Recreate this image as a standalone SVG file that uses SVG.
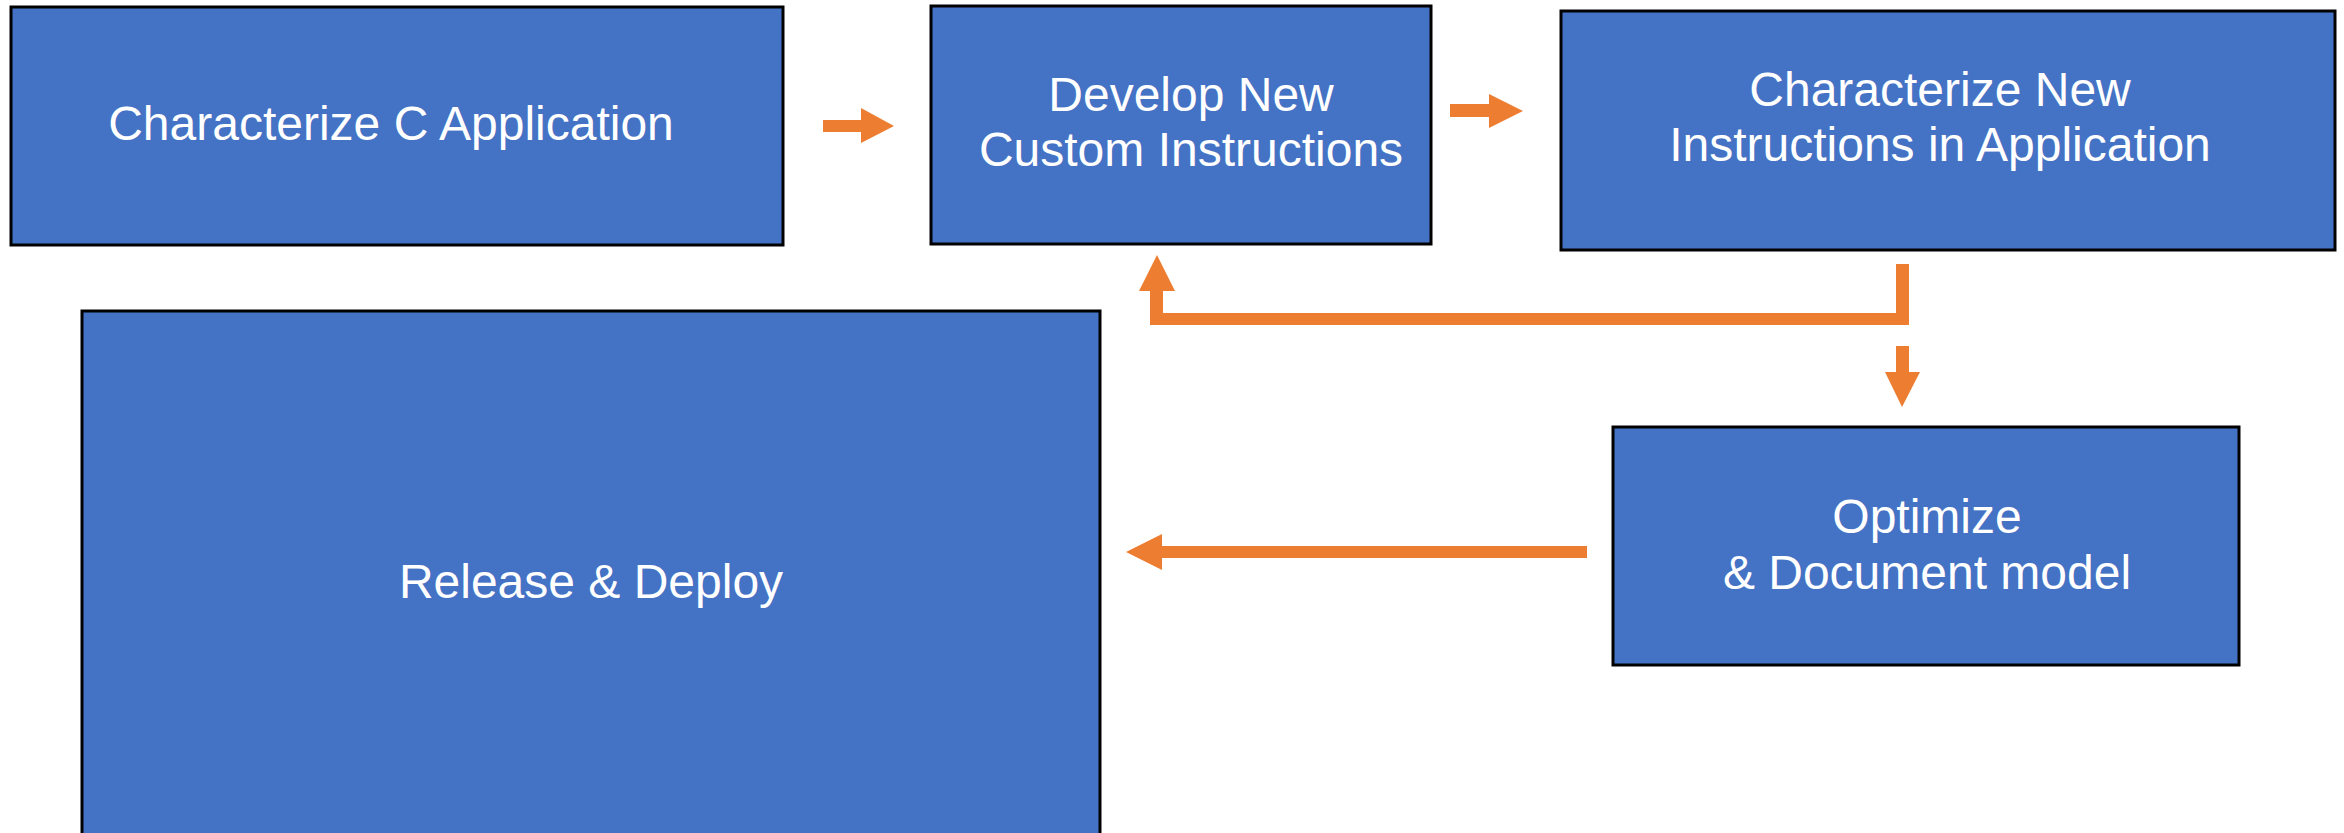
<svg xmlns="http://www.w3.org/2000/svg" width="2344" height="833" viewBox="0 0 2344 833">
<style>
.box{fill:#4472C4;stroke:#000;stroke-width:3}
.lbl{fill:#fff;font-family:"Liberation Sans",Arial,sans-serif;font-size:48px;text-anchor:middle}
.arr{fill:#ED7D31;stroke:none}
</style>
<rect width="2344" height="833" fill="#fff"/>
<g id="n1">
<rect class="box" x="11" y="7" width="772" height="238"/>
<text class="lbl" x="391" y="140">Characterize C Application</text>
</g>
<g id="n2">
<rect class="box" x="931" y="6" width="500" height="238"/>
<text class="lbl" x="1191" y="111">Develop New</text>
<text class="lbl" x="1191" y="166">Custom Instructions</text>
</g>
<g id="n3">
<rect class="box" x="1561" y="11" width="774" height="239"/>
<text class="lbl" x="1940" y="106">Characterize New</text>
<text class="lbl" x="1940" y="161">Instructions in Application</text>
</g>
<g id="n4">
<rect class="box" x="82" y="311" width="1018" height="540"/>
<text class="lbl" x="591" y="598">Release &amp; Deploy</text>
</g>
<g id="n5">
<rect class="box" x="1613" y="427" width="626" height="238"/>
<text class="lbl" x="1927" y="533">Optimize</text>
<text class="lbl" x="1927" y="589">&amp; Document model</text>
</g>
<g id="connectors">
<polygon class="arr" points="823,120 861,120 861,108 894,126 861,143 861,132 823,132"/>
<polygon class="arr" points="1450,104 1489,104 1489,94 1523,111 1489,128 1489,117 1450,117"/>
<polygon class="arr" points="1896,264 1909,264 1909,325 1150,325 1150,291 1139,291 1157,255 1175,291 1163,291 1163,313 1896,313"/>
<polygon class="arr" points="1896,346 1909,346 1909,372 1920,372 1902,407 1885,372 1896,372"/>
<polygon class="arr" points="1587,546 1587,558 1162,558 1162,570 1126,552 1162,534 1162,546"/>
</g>
</svg>
